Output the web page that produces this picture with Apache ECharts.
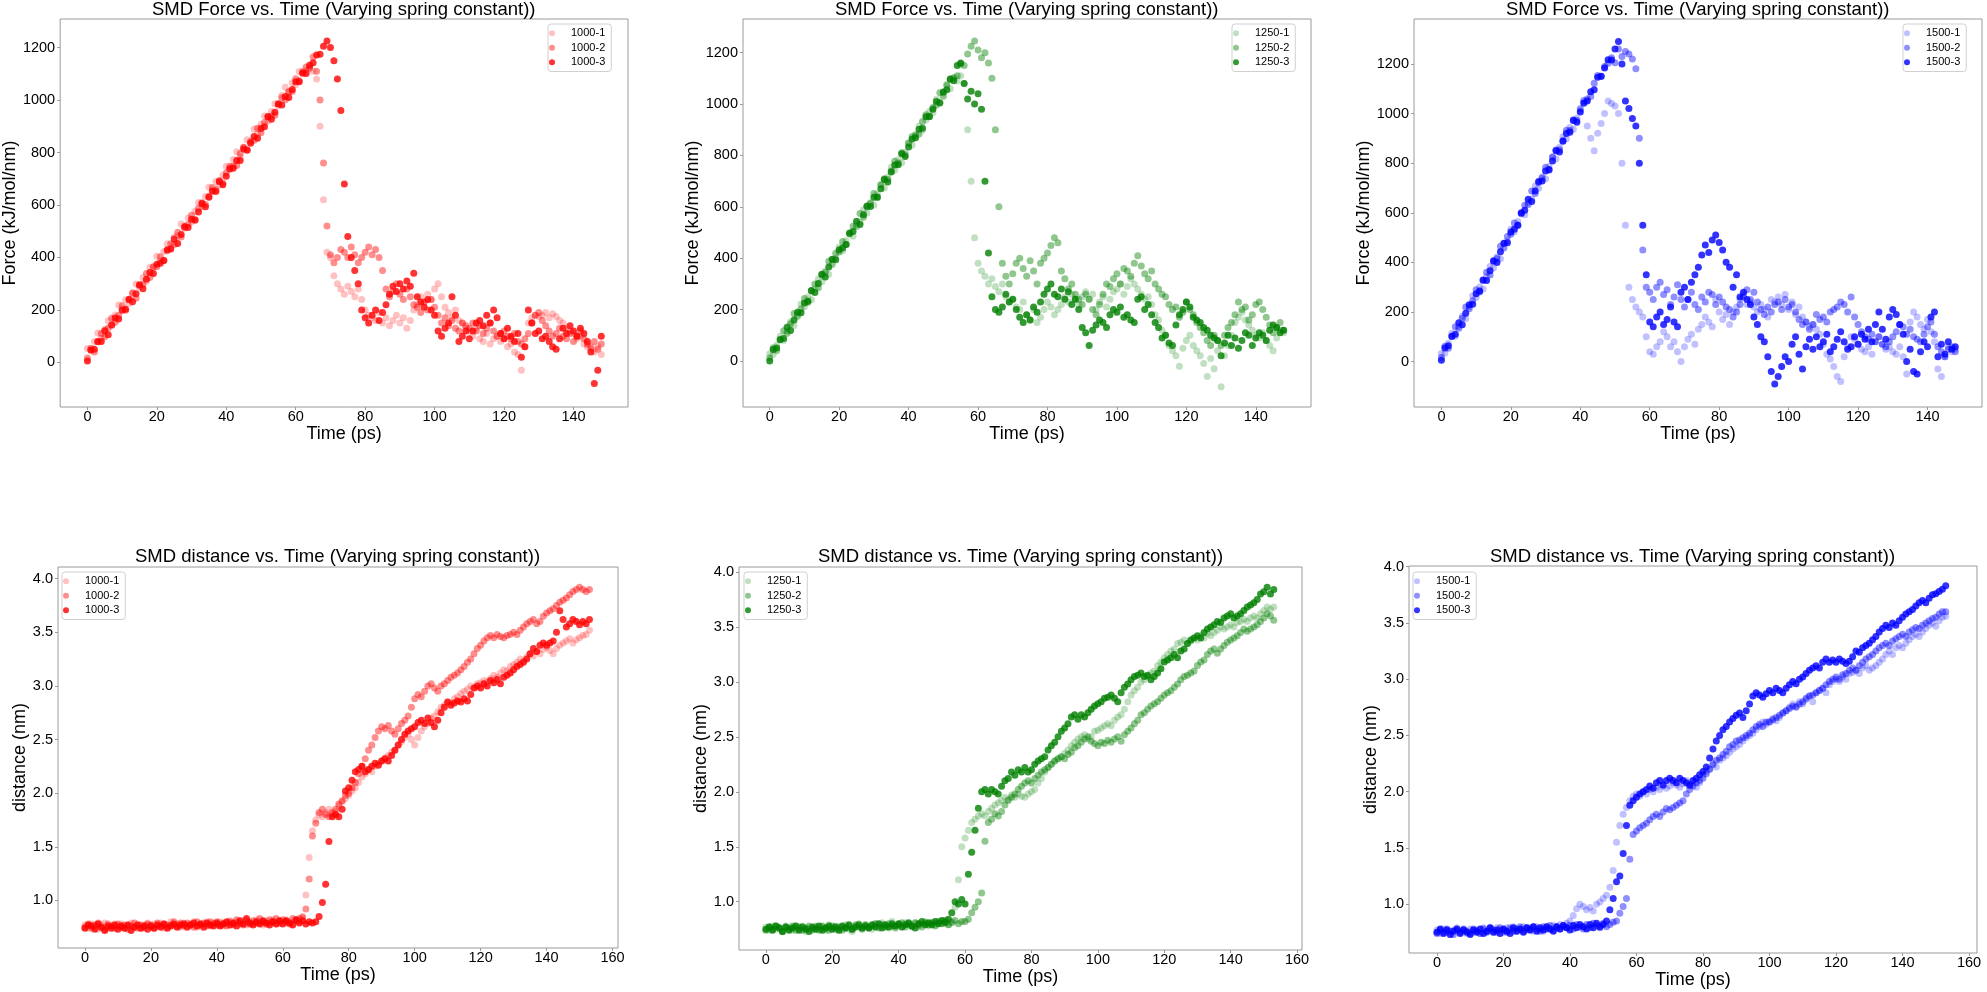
<!DOCTYPE html>
<html>
<head>
<meta charset="utf-8">
<script src="https://cdn.jsdelivr.net/npm/echarts@6/dist/echarts.min.js"></script>
<style>
html,body{margin:0;padding:0;background:#fff;}
#chart{width:1987px;height:992px;}
</style>
</head>
<body>
<div id="chart"></div>
<script>
// ---------------- DATA (sampled every 1 ps, starting at 0 ps) ----------------
const SAMPLE_PS = 1;

const forceTicks = [0, 200, 400, 600, 800, 1000, 1200];
const forceTimeTicks = [0, 20, 40, 60, 80, 100, 120, 140];
const distTimeTicks = [0, 20, 40, 60, 80, 100, 120, 140, 160];
const distTicks = [1.0, 1.5, 2.0, 2.5, 3.0, 3.5, 4.0];

// Force (kJ/mol/nm), spring constant 1000
const force1000_1 = [
53,46,80,112,92,126,159,141,181,219,
204,239,225,266,299,286,324,309,362,366,
405,387,423,452,434,478,483,528,511,550,
535,576,610,593,632,668,652,690,675,713,
747,734,773,803,782,820,849,841,890,871,
908,939,919,956,986,978,1017,1049,1033,1066,
1058,1109,1110,1114,1120,1110,1080,900,620,420,
400,330,300,280,260,290,270,250,280,240,
200,180,170,160,190,150,170,140,160,180,
150,170,130,160,200,220,250,230,260,240,
280,300,250,210,190,170,200,160,150,130,
120,100,130,90,80,110,70,90,100,80,
90,60,70,40,30,-30,60,150,170,180,
175,180,190,170,185,175,160,150,130,120,
110,90,100,70,60,50,40,60,30];
const force1000_2 = [
17,54,40,81,110,98,131,168,153,179,
216,199,239,264,245,293,298,339,324,364,
365,403,388,426,452,449,496,478,514,526,
561,541,588,609,602,633,667,658,693,684,
723,748,749,751,796,820,809,842,847,893,
875,914,937,938,942,986,1009,1001,1031,1033,
1081,1074,1106,1126,1123,1164,1110,1000,760,520,
410,380,400,430,420,400,440,410,380,400,
420,440,410,430,400,350,280,250,270,300,
260,240,280,250,220,210,190,230,200,240,
210,180,150,170,140,160,130,120,150,140,
130,150,120,140,110,130,150,120,100,110,
120,100,90,110,80,70,90,110,150,180,
190,160,140,120,100,110,130,100,90,110,
80,100,120,90,70,60,80,50,70];
const force1000_3 = [
5,47,50,79,80,121,105,143,169,165,
199,203,241,231,262,296,281,317,343,339,
374,378,388,429,432,470,453,488,518,514,
546,544,573,606,593,630,653,651,690,677,
710,738,740,770,770,813,810,835,861,854,
892,898,936,927,954,985,981,1014,1010,1040,
1070,1070,1102,1101,1133,1142,1172,1175,1205,1225,
1200,1150,1080,960,680,480,400,350,300,200,
170,150,180,200,160,190,220,260,290,270,
300,280,310,290,340,250,230,210,240,200,
180,120,100,130,150,250,180,80,100,120,
90,120,150,160,140,180,150,200,170,110,
90,130,100,80,110,20,60,200,150,110,
120,90,100,80,60,50,90,130,110,140,
120,100,130,110,80,40,-80,-30,100];

// Force (kJ/mol/nm), spring constant 1250
const force1250_1 = [
28,25,61,96,80,116,153,138,182,222,
211,249,238,282,319,308,350,338,395,401,
444,429,468,500,486,532,541,589,576,617,
606,650,687,673,716,754,742,783,772,812,
850,840,882,915,898,938,971,966,1019,1002,
1043,1077,1060,1100,1090,1110,1080,900,700,480,
380,350,330,300,320,290,270,300,250,230,
240,210,200,230,180,160,200,150,170,200,
230,210,180,200,220,250,230,260,240,220,
250,270,240,260,200,230,250,210,240,270,
280,300,260,290,320,300,280,260,240,250,
220,180,160,120,100,60,40,20,-20,50,
80,100,60,40,20,-10,-60,10,-30,40,
-100,20,60,100,150,170,190,160,140,120,
100,90,110,80,60,40,90,120,110];
const force1250_2 = [
12,52,41,85,118,108,145,185,174,202,
243,229,272,300,285,335,344,388,377,419,
424,465,453,494,524,523,574,559,599,613,
652,635,685,709,706,739,777,771,810,803,
846,874,878,883,932,958,951,987,996,1044,
1030,1072,1098,1102,1110,1156,1150,1195,1225,1245,
1210,1180,1200,1160,1100,900,600,380,330,300,
340,380,400,360,330,390,350,300,380,400,
420,450,480,460,350,320,280,300,260,240,
220,260,240,200,180,220,260,300,290,320,
340,300,360,350,330,380,410,370,340,320,
350,300,280,260,250,220,200,210,170,190,
230,200,180,150,130,110,80,60,100,80,
60,100,130,150,180,230,200,210,160,180,
220,230,200,170,140,110,130,150,120];
const force1250_3 = [
0,45,51,83,88,131,119,160,190,188,
226,233,274,267,302,338,327,366,396,394,
433,440,453,497,504,544,531,569,603,601,
637,638,670,706,697,736,763,764,807,796,
833,864,869,902,906,951,952,980,1010,1005,
1047,1056,1097,1091,1150,1160,1080,1020,1050,1000,
1040,980,700,420,250,200,190,210,260,230,
240,200,170,150,180,160,210,190,230,260,
280,300,260,250,280,240,270,220,240,200,
130,110,60,120,140,160,150,130,180,200,
190,210,170,180,160,150,240,250,200,220,
180,150,130,90,100,70,60,140,180,200,
230,210,170,160,150,130,120,100,90,80,
20,70,100,60,90,50,80,110,100,60,
90,110,100,80,120,140,130,110,120];

// Force (kJ/mol/nm), spring constant 1500
const force1500_1 = [
33,34,74,114,102,142,183,173,221,265,
258,301,293,342,383,377,422,415,476,486,
533,523,565,602,592,642,655,708,699,744,
737,786,826,817,864,906,898,944,937,981,
1010,1040,950,900,850,920,960,1000,1050,1040,
1030,1000,800,550,300,250,220,200,180,100,
40,30,60,80,120,100,60,80,40,0,
60,90,110,70,130,150,180,160,140,250,
200,170,190,150,200,220,250,270,230,240,
220,200,230,210,180,250,240,260,230,270,
210,240,190,220,180,160,140,150,130,110,
70,30,10,-20,-60,-80,20,60,100,90,
70,50,40,60,30,80,100,70,50,60,
40,30,60,20,-50,160,200,180,150,130,
170,120,80,-30,-60,20,60,40,50];
const force1500_2 = [
17,62,54,103,140,134,175,220,213,245,
290,281,327,360,349,404,416,465,458,504,
513,559,550,596,630,633,688,678,722,740,
783,771,824,853,854,891,933,932,975,972,
1019,1052,1059,1069,1122,1153,1149,1190,1203,1225,
1205,1260,1230,1250,1240,1220,1180,900,450,300,
280,250,300,320,270,290,230,260,310,250,
220,250,280,230,210,260,240,280,270,230,
260,240,220,210,180,200,230,260,290,250,
280,240,210,190,220,200,230,240,210,250,
220,230,200,170,150,160,130,150,190,170,
180,160,200,210,220,240,230,200,260,180,
150,120,100,90,110,80,100,70,60,80,
100,120,150,140,110,130,100,90,80,110,
140,160,110,60,40,20,50,60,40];
const force1500_3 = [
5,55,64,101,110,157,149,195,229,231,
273,285,329,327,366,407,399,443,477,479,
522,534,550,599,610,654,645,688,726,728,
768,774,809,850,845,888,919,925,972,965,
1006,1042,1050,1088,1096,1146,1150,1183,1217,1216,
1260,1290,1200,1050,1020,980,950,800,550,350,
160,140,180,200,150,170,220,160,140,280,
300,250,320,350,380,430,470,440,490,510,
480,450,400,380,300,350,260,280,250,230,
180,150,100,80,20,-40,-90,-60,-20,20,
0,70,100,30,-30,60,90,50,100,60,
80,110,40,60,90,120,80,50,60,100,
70,110,90,130,80,150,200,130,90,180,
210,190,150,110,0,50,-40,-50,40,80,
60,180,200,20,70,30,80,50,60];

// Distance (nm), spring constant 1000
const dist1000_1 = [
0.77,0.74,0.78,0.75,0.73,0.77,0.79,0.74,0.76,0.78,
0.75,0.78,0.74,0.77,0.79,0.75,0.78,0.74,0.77,0.79,
0.75,0.78,0.76,0.79,0.74,0.77,0.80,0.76,0.78,0.75,
0.79,0.76,0.78,0.80,0.75,0.78,0.77,0.80,0.76,0.79,
0.77,0.80,0.76,0.79,0.81,0.77,0.80,0.78,0.81,0.77,
0.80,0.78,0.82,0.79,0.77,0.81,0.79,0.82,0.78,0.81,
0.79,0.82,0.80,0.78,0.82,0.80,0.85,1.05,1.40,1.65,
1.75,1.80,1.78,1.82,1.85,1.80,1.83,1.88,1.92,1.95,
1.98,2.02,2.05,2.10,2.15,2.18,2.22,2.20,2.25,2.28,
2.30,2.33,2.35,2.38,2.40,2.45,2.48,2.52,2.55,2.50,
2.45,2.52,2.58,2.62,2.65,2.70,2.72,2.76,2.80,2.82,
2.85,2.84,2.88,2.90,2.93,2.95,2.97,3.00,2.98,3.02,
3.03,3.05,3.04,3.07,3.10,3.08,3.12,3.15,3.14,3.18,
3.20,3.22,3.25,3.23,3.27,3.30,3.28,3.32,3.30,3.34,
3.36,3.33,3.30,3.35,3.38,3.40,3.42,3.44,3.40,3.43,
3.45,3.47,3.48,3.52];
const dist1000_2 = [
0.75,0.78,0.74,0.77,0.79,0.75,0.73,0.78,0.76,0.74,
0.78,0.75,0.77,0.73,0.76,0.79,0.74,0.77,0.75,0.78,
0.77,0.74,0.79,0.76,0.78,0.75,0.77,0.80,0.76,0.79,
0.76,0.79,0.77,0.75,0.80,0.77,0.79,0.76,0.80,0.78,
0.80,0.77,0.79,0.76,0.80,0.78,0.82,0.79,0.77,0.81,
0.78,0.81,0.79,0.83,0.80,0.78,0.82,0.80,0.83,0.79,
0.82,0.80,0.78,0.83,0.81,0.83,0.84,0.92,1.20,1.60,
1.72,1.82,1.85,1.80,1.78,1.82,1.85,1.90,1.93,1.98,
2.00,2.05,2.10,2.18,2.25,2.32,2.40,2.45,2.52,2.58,
2.62,2.60,2.63,2.58,2.55,2.60,2.65,2.68,2.72,2.80,
2.88,2.92,2.90,2.95,3.00,3.02,2.98,2.95,3.00,3.02,
3.05,3.08,3.10,3.12,3.15,3.18,3.22,3.25,3.30,3.35,
3.38,3.42,3.45,3.47,3.45,3.48,3.46,3.45,3.47,3.48,
3.50,3.48,3.52,3.55,3.58,3.60,3.62,3.58,3.60,3.65,
3.68,3.70,3.72,3.75,3.78,3.80,3.82,3.85,3.88,3.90,
3.92,3.90,3.88,3.90];
const dist1000_3 = [
0.74,0.77,0.76,0.73,0.78,0.75,0.72,0.76,0.74,0.77,
0.73,0.76,0.74,0.77,0.72,0.75,0.77,0.74,0.76,0.73,
0.76,0.74,0.77,0.75,0.78,0.74,0.76,0.78,0.75,0.77,
0.78,0.75,0.77,0.79,0.76,0.78,0.75,0.79,0.77,0.76,
0.79,0.76,0.78,0.80,0.77,0.79,0.76,0.81,0.78,0.83,
0.79,0.77,0.80,0.78,0.81,0.79,0.77,0.80,0.78,0.81,
0.78,0.81,0.79,0.77,0.82,0.79,0.81,0.78,0.80,0.79,
0.80,0.85,0.98,1.15,1.55,1.78,1.80,1.78,1.85,2.02,
2.05,2.12,2.20,2.22,2.25,2.20,2.22,2.25,2.28,2.26,
2.30,2.32,2.30,2.35,2.40,2.45,2.50,2.55,2.58,2.60,
2.62,2.66,2.68,2.65,2.70,2.66,2.62,2.68,2.75,2.80,
2.85,2.82,2.84,2.86,2.85,2.88,2.86,2.92,2.98,3.00,
2.98,3.02,3.00,3.05,3.03,3.06,3.02,3.08,3.10,3.12,
3.15,3.18,3.20,3.22,3.25,3.30,3.35,3.32,3.38,3.40,
3.38,3.40,3.42,3.50,3.70,3.62,3.55,3.58,3.62,3.60,
3.57,3.60,3.58,3.62];

// Distance (nm), spring constant 1250
const dist1250_1 = [
0.77,0.74,0.78,0.75,0.77,0.73,0.78,0.76,0.74,0.78,
0.75,0.78,0.73,0.76,0.74,0.78,0.75,0.77,0.74,0.79,
0.76,0.78,0.74,0.77,0.79,0.75,0.73,0.78,0.80,0.76,
0.79,0.77,0.75,0.80,0.77,0.81,0.78,0.76,0.82,0.78,
0.80,0.77,0.81,0.79,0.77,0.81,0.78,0.80,0.82,0.78,
0.81,0.79,0.82,0.80,0.83,0.79,0.82,0.95,1.20,1.50,
1.58,1.65,1.72,1.75,1.78,1.80,1.78,1.82,1.85,1.88,
1.90,1.92,1.95,1.93,1.97,1.95,1.98,1.96,1.95,1.98,
2.00,2.02,2.08,2.12,2.18,2.22,2.25,2.28,2.30,2.32,
2.35,2.38,2.42,2.45,2.48,2.50,2.52,2.48,2.50,2.55,
2.56,2.58,2.60,2.62,2.60,2.65,2.68,2.70,2.75,2.82,
2.88,2.92,2.95,3.00,3.02,3.05,3.08,3.10,3.15,3.18,
3.22,3.25,3.28,3.30,3.35,3.36,3.38,3.35,3.37,3.40,
3.38,3.42,3.40,3.44,3.42,3.45,3.47,3.50,3.48,3.50,
3.52,3.50,3.54,3.55,3.57,3.55,3.58,3.60,3.58,3.62,
3.65,3.68,3.66,3.68];
const dist1250_2 = [
0.74,0.77,0.75,0.78,0.76,0.73,0.77,0.75,0.78,0.74,
0.77,0.74,0.76,0.78,0.75,0.77,0.74,0.78,0.76,0.74,
0.78,0.75,0.77,0.74,0.76,0.78,0.75,0.79,0.77,0.75,
0.79,0.76,0.78,0.80,0.76,0.79,0.77,0.80,0.78,0.76,
0.79,0.81,0.77,0.80,0.78,0.81,0.79,0.77,0.81,0.79,
0.81,0.78,0.82,0.80,0.83,0.79,0.81,0.83,0.80,0.82,
0.82,0.84,0.90,0.95,1.00,1.08,1.55,1.72,1.75,1.80,
1.78,1.82,1.88,1.92,1.95,1.98,2.02,2.05,2.08,2.10,
2.08,2.12,2.15,2.18,2.20,2.22,2.25,2.28,2.30,2.32,
2.30,2.34,2.36,2.40,2.42,2.45,2.48,2.50,2.46,2.44,
2.42,2.45,2.44,2.47,2.45,2.48,2.50,2.46,2.52,2.55,
2.58,2.62,2.65,2.70,2.72,2.75,2.78,2.80,2.82,2.85,
2.88,2.90,2.92,2.95,2.98,3.02,3.05,3.06,3.08,3.10,
3.15,3.18,3.20,3.25,3.28,3.30,3.26,3.30,3.33,3.36,
3.38,3.40,3.42,3.45,3.48,3.46,3.48,3.50,3.52,3.55,
3.58,3.62,3.60,3.56];
const dist1250_3 = [
0.75,0.77,0.74,0.78,0.76,0.73,0.77,0.74,0.76,0.78,
0.74,0.77,0.75,0.73,0.77,0.75,0.78,0.74,0.76,0.78,
0.75,0.77,0.74,0.78,0.76,0.79,0.75,0.77,0.79,0.76,
0.78,0.76,0.79,0.77,0.80,0.76,0.79,0.77,0.80,0.78,
0.80,0.77,0.79,0.81,0.78,0.76,0.80,0.82,0.79,0.81,
0.79,0.82,0.80,0.83,0.81,0.84,0.90,1.00,0.98,1.02,
0.98,1.25,1.45,1.65,1.85,2.00,2.02,1.98,2.02,2.00,
1.98,2.05,2.10,2.12,2.18,2.15,2.20,2.18,2.22,2.18,
2.20,2.25,2.28,2.30,2.32,2.38,2.42,2.45,2.50,2.55,
2.58,2.62,2.68,2.70,2.66,2.70,2.68,2.72,2.75,2.78,
2.80,2.82,2.85,2.86,2.88,2.85,2.82,2.90,2.95,2.98,
3.02,3.05,3.06,3.08,3.05,3.06,3.02,3.05,3.08,3.12,
3.18,3.20,3.22,3.25,3.22,3.28,3.30,3.35,3.38,3.40,
3.42,3.40,3.45,3.48,3.50,3.52,3.55,3.54,3.58,3.60,
3.62,3.58,3.60,3.62,3.65,3.68,3.70,3.72,3.75,3.80,
3.82,3.86,3.80,3.84];

// Distance (nm), spring constant 1500
const dist1500_1 = [
0.77,0.74,0.78,0.75,0.73,0.77,0.79,0.75,0.77,0.74,
0.78,0.75,0.77,0.74,0.79,0.76,0.78,0.75,0.79,0.77,
0.75,0.79,0.77,0.80,0.76,0.78,0.80,0.77,0.79,0.76,
0.80,0.78,0.76,0.80,0.78,0.81,0.79,0.82,0.80,0.83,
0.85,0.90,0.96,1.00,0.98,0.95,0.97,0.94,1.00,1.02,
1.05,1.08,1.15,1.30,1.55,1.70,1.80,1.86,1.92,1.96,
1.98,1.96,2.00,1.98,2.02,2.00,2.04,2.02,2.05,2.03,
2.05,2.08,2.06,2.04,2.07,2.10,2.05,2.08,2.04,2.08,
2.15,2.18,2.20,2.25,2.22,2.28,2.30,2.32,2.35,2.38,
2.40,2.42,2.45,2.48,2.50,2.52,2.55,2.58,2.62,2.60,
2.62,2.65,2.63,2.66,2.70,2.72,2.75,2.78,2.76,2.80,
2.78,2.82,2.85,2.80,2.88,2.90,2.92,2.88,2.95,2.98,
3.00,2.98,3.02,3.00,3.05,3.06,3.08,3.05,3.10,3.12,
3.08,3.10,3.12,3.15,3.18,3.22,3.25,3.22,3.28,3.30,
3.28,3.32,3.35,3.38,3.40,3.38,3.42,3.45,3.48,3.50,
3.47,3.52,3.55,3.56];
const dist1500_2 = [
0.74,0.77,0.75,0.78,0.76,0.73,0.77,0.75,0.78,0.76,
0.74,0.78,0.76,0.74,0.78,0.75,0.79,0.77,0.75,0.79,
0.77,0.75,0.79,0.76,0.78,0.80,0.76,0.79,0.77,0.80,
0.78,0.76,0.80,0.78,0.81,0.77,0.80,0.78,0.81,0.79,
0.81,0.78,0.82,0.80,0.78,0.82,0.79,0.83,0.81,0.79,
0.83,0.80,0.82,0.84,0.85,0.92,0.98,1.05,1.40,1.62,
1.65,1.68,1.70,1.72,1.75,1.78,1.80,1.78,1.82,1.85,
1.84,1.86,1.88,1.90,1.92,1.98,2.02,2.05,2.08,2.10,
2.12,2.16,2.20,2.24,2.28,2.30,2.33,2.36,2.40,2.42,
2.45,2.46,2.48,2.50,2.52,2.55,2.58,2.60,2.58,2.62,
2.62,2.64,2.66,2.68,2.70,2.72,2.74,2.76,2.75,2.78,
2.80,2.83,2.85,2.86,2.88,2.90,2.92,2.95,2.98,3.00,
3.02,3.00,3.04,3.05,3.08,3.10,3.08,3.12,3.15,3.18,
3.20,3.22,3.25,3.28,3.30,3.32,3.30,3.34,3.36,3.38,
3.40,3.38,3.42,3.44,3.46,3.45,3.48,3.50,3.52,3.54,
3.55,3.58,3.60,3.60];
const dist1500_3 = [
0.75,0.78,0.74,0.77,0.73,0.76,0.78,0.74,0.77,0.75,
0.73,0.77,0.75,0.78,0.74,0.76,0.79,0.75,0.77,0.74,
0.78,0.76,0.74,0.79,0.76,0.78,0.75,0.79,0.77,0.80,
0.76,0.79,0.77,0.80,0.78,0.76,0.80,0.78,0.81,0.79,
0.77,0.81,0.79,0.82,0.80,0.78,0.82,0.79,0.83,0.80,
0.82,0.85,0.95,1.05,1.20,1.25,1.45,1.70,1.88,1.92,
1.95,1.98,2.00,2.02,2.05,2.03,2.08,2.10,2.06,2.10,
2.12,2.10,2.08,2.12,2.10,2.08,2.06,2.10,2.12,2.15,
2.18,2.22,2.30,2.38,2.45,2.50,2.55,2.58,2.62,2.65,
2.68,2.70,2.66,2.72,2.78,2.85,2.88,2.86,2.84,2.87,
2.90,2.88,2.92,2.90,2.88,2.92,2.95,2.98,2.96,3.00,
3.02,3.05,3.08,3.10,3.12,3.10,3.15,3.18,3.15,3.17,
3.15,3.18,3.16,3.14,3.16,3.20,3.25,3.24,3.28,3.30,
3.32,3.35,3.38,3.42,3.45,3.48,3.46,3.50,3.48,3.52,
3.55,3.58,3.60,3.62,3.65,3.68,3.70,3.68,3.72,3.75,
3.76,3.78,3.80,3.83];

// ---------------- PRESENTATION ----------------
const FONT = 'Liberation Sans';
const FRAME = '#9a9a9a';
const ALPHAS = [0.3, 0.55, 1];
const BASE = {red: '255,0,0', green: '0,128,0', blue: '0,0,255'};
const TITLE_SIZE = 18.5;

const panels = [
  {title: 'SMD Force vs. Time (Varying spring constant))', yName: 'Force (kJ/mol/nm)', k: '1000', col: 'red',
   sets: [force1000_1, force1000_2, force1000_3], grid: {left: 59, top: 19, width: 569, height: 388},
   x: [-7.85, 155.7], y: [-170, 1309], xt: forceTimeTicks, yt: forceTicks, leg: [548, 24], yGap: 39, tTop: 0, kind: 'f'},
  {title: 'SMD Force vs. Time (Varying spring constant))', yName: 'Force (kJ/mol/nm)', k: '1250', col: 'green',
   sets: [force1250_1, force1250_2, force1250_3], grid: {left: 743, top: 19, width: 568, height: 388},
   x: [-7.7, 155.9], y: [-179, 1331], xt: forceTimeTicks, yt: forceTicks, leg: [1232, 24], yGap: 39, tTop: 0, kind: 'f'},
  {title: 'SMD Force vs. Time (Varying spring constant))', yName: 'Force (kJ/mol/nm)', k: '1500', col: 'blue',
   sets: [force1500_1, force1500_2, force1500_3], grid: {left: 1414, top: 19, width: 568, height: 388},
   x: [-7.9, 155.7], y: [-183, 1381], xt: forceTimeTicks, yt: forceTicks, leg: [1903, 24], yGap: 39, tTop: 0, kind: 'f'},
  {title: 'SMD distance vs. Time (Varying spring constant))', yName: 'distance (nm)', k: '1000', col: 'red',
   sets: [dist1000_1, dist1000_2, dist1000_3], grid: {left: 58, top: 567, width: 560, height: 381},
   x: [-8.17, 161.66], y: [0.556, 4.109], xt: distTimeTicks, yt: distTicks, leg: [62, 572], yGap: 25, tTop: 547, kind: 'd'},
  {title: 'SMD distance vs. Time (Varying spring constant))', yName: 'distance (nm)', k: '1250', col: 'green',
   sets: [dist1250_1, dist1250_2, dist1250_3], grid: {left: 739, top: 567, width: 563, height: 383},
   x: [-8.1, 161.5], y: [0.561, 4.045], xt: distTimeTicks, yt: distTicks, leg: [744, 572], yGap: 26, tTop: 547, kind: 'd'},
  {title: 'SMD distance vs. Time (Varying spring constant))', yName: 'distance (nm)', k: '1500', col: 'blue',
   sets: [dist1500_1, dist1500_2, dist1500_3], grid: {left: 1409, top: 566, width: 568, height: 387},
   x: [-8.4, 162.4], y: [0.566, 4.006], xt: distTimeTicks, yt: distTicks, leg: [1413, 572], yGap: 26, tTop: 547, kind: 'd'}
];

// measure text width so each title can be centred over its own plot
const measureCtx = document.createElement('canvas').getContext('2d');
function textWidth(str, size) {
  measureCtx.font = size + 'px "' + FONT + '"';
  return measureCtx.measureText(str).width;
}

const option = {
  animation: false,
  backgroundColor: '#fff',
  title: [], grid: [], xAxis: [], yAxis: [], legend: [], series: []
};

panels.forEach((p, i) => {
  const g = p.grid;
  option.grid.push({left: g.left, top: g.top, width: g.width, height: g.height,
    show: true, borderColor: FRAME, borderWidth: 1, backgroundColor: 'transparent', containLabel: false});
  const tw = textWidth(p.title, TITLE_SIZE);
  option.title.push({text: p.title, left: Math.round(g.left + g.width / 2 - tw / 2), textAlign: 'left',
    top: p.tTop, padding: 0,
    textStyle: {fontFamily: FONT, fontSize: TITLE_SIZE, fontWeight: 'normal', color: '#000'}});
  option.xAxis.push({type: 'value', gridIndex: i, min: p.x[0], max: p.x[1],
    name: 'Time (ps)', nameLocation: 'middle', nameGap: 15,
    nameTextStyle: {fontFamily: FONT, fontSize: 18, color: '#000'},
    axisLine: {show: false, onZero: false},
    axisTick: {show: true, length: 3, lineStyle: {color: FRAME}, customValues: p.xt},
    axisLabel: {fontFamily: FONT, fontSize: 14.5, color: '#000', margin: 2, customValues: p.xt},
    splitLine: {show: false}});
  option.yAxis.push({type: 'value', gridIndex: i, min: p.y[0], max: p.y[1],
    name: p.yName, nameLocation: 'middle', nameGap: p.yGap, nameRotate: 90,
    nameTextStyle: {fontFamily: FONT, fontSize: 18, color: '#000'},
    axisLine: {show: false, onZero: false},
    axisTick: {show: true, length: 3, lineStyle: {color: FRAME}, customValues: p.yt},
    axisLabel: {fontFamily: FONT, fontSize: 14.5, color: '#000', margin: 5, customValues: p.yt,
      formatter: p.kind === 'd' ? (v => Number(v).toFixed(1)) : (v => String(v))},
    splitLine: {show: false}});
  const names = [];
  p.sets.forEach((vals, j) => {
    const name = p.k + '-' + (j + 1);
    names.push(name);
    option.series.push({
      type: 'scatter', name: name, xAxisIndex: i, yAxisIndex: i,
      data: vals.map((v, t) => [t * SAMPLE_PS, v]),
      symbol: 'circle', symbolSize: 7, silent: true,
      itemStyle: {color: 'rgba(' + BASE[p.col] + ',' + ALPHAS[j] + ')'},
      emphasis: {disabled: true}
    });
  });
  option.legend.push({data: names, orient: 'vertical', left: p.leg[0], top: p.leg[1],
    icon: 'circle', itemWidth: 28, itemHeight: 6, itemGap: 0,
    padding: [2, 6, 2, 1], backgroundColor: '#fff', borderColor: '#d0d0d0', borderWidth: 1, borderRadius: 3,
    selectedMode: false,
    textStyle: {fontFamily: FONT, fontSize: 11, color: '#000', lineHeight: 14.5}});
});

const chart = echarts.init(document.getElementById('chart'), null, {renderer: 'canvas'});
chart.setOption(option);
</script>
</body>
</html>
